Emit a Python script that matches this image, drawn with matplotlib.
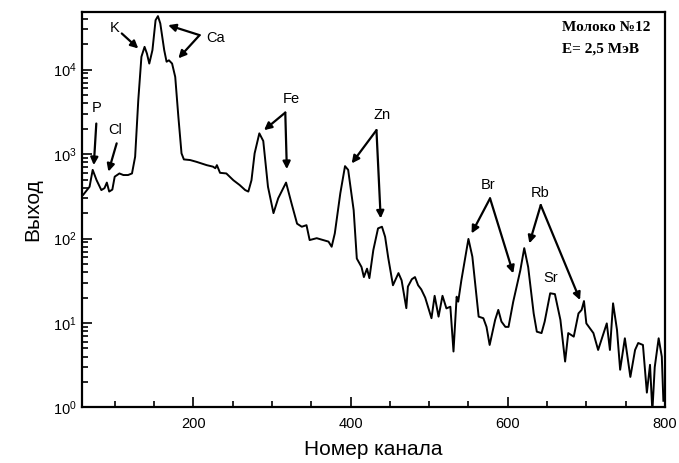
import matplotlib
matplotlib.use("Agg")
import matplotlib.pyplot as plt
from matplotlib.ticker import MultipleLocator, LogLocator, NullFormatter

plt.rcParams['font.family'] = ['Liberation Sans', 'DejaVu Sans']
plt.rcParams['mathtext.fontset'] = 'custom'
plt.rcParams['mathtext.rm'] = 'Liberation Sans'
plt.rcParams['mathtext.it'] = 'Liberation Sans:italic'

# spectrum: channel number and yield
channel = [60, 68, 72, 77, 83, 87, 90, 93, 97, 100, 106, 111, 117, 122, 126, 130, 134, 138, 141, 144,
           148, 152, 155, 158, 163, 166, 169, 173, 177, 181, 185, 188, 196, 204, 217, 225, 228, 230,
           234, 242, 251, 259, 266, 270, 274, 278, 284, 289, 295, 302, 308, 318, 325, 332, 338, 344,
           348, 357, 365, 372, 376, 380, 387, 393, 397, 404, 408, 414, 417, 421, 424, 429, 435, 440,
           444, 448, 454, 461, 465, 471, 473, 478, 482, 486, 490, 495, 503, 507, 512, 517, 522, 527,
           531, 535, 537, 541, 550, 555, 563, 569, 573, 577, 584, 588, 592, 597, 601, 607, 616, 621,
           626, 633, 637, 643, 647, 654, 660, 667, 673, 677, 684, 690, 694, 697, 700, 709, 715, 722,
           726, 730, 734, 739, 743, 749, 756, 762, 766, 772, 777, 781, 784, 787, 792, 796, 798]
counts = [330, 410, 650, 490, 375, 395, 460, 360, 380, 540, 590, 565, 565, 590, 930, 4350, 14200,
          18600, 15500, 11800, 17000, 38500, 43000, 35200, 17000, 12400, 12900, 11800, 8200, 2760,
          1020, 865, 850, 810, 740, 710, 680, 740, 600, 590, 490, 430, 375, 360, 490, 1020, 1760,
          1430, 410, 200, 300, 460, 260, 150, 138, 144, 96, 101, 96, 92, 80, 115, 343, 720, 650, 217,
          58, 46, 35, 44, 34, 73, 132, 138, 105, 59, 28, 39, 32, 15, 27, 33, 35, 28, 25, 20, 11.4, 21,
          11.9, 21, 14.9, 15.6, 4.6, 20.5, 17.9, 32, 99, 61, 11.9, 11.4, 9.0, 5.5, 10.9, 14.3, 10.4,
          9.0, 9.0, 17.9, 42, 77, 46, 13, 7.9, 7.6, 10.4, 22.5, 22, 10.9, 3.5, 7.6, 6.9, 13, 14.3,
          18.2, 9.9, 7.6, 4.8, 7.6, 9.9, 4.8, 17.1, 8.3, 2.8, 6.6, 2.3, 4.8, 5.8, 5.5, 1.5, 3.2, 0.9,
          3.0, 6.6, 4.0, 1.2]

# element labels: (text, text position, arrow start, arrow tips)
labels = [
    ("P",  (77, 3475),   (76.6, 2300),  [(73.4, 740)]),
    ("Cl", (100, 1920),  (102.5, 1340), [(92, 620)]),
    ("K",  (100, 30700), (109, 26800),  [(130, 17800)]),
    ("Ca", (228, 23400), (208, 25600),  [(168, 33600), (181, 13600)]),
    ("Fe", (325, 4480),  (317, 3100),   [(290, 1920), (319, 664)]),
    ("Zn", (440, 2900),  (433, 1920),   [(401.5, 776), (438.4, 173)]),
    ("Br", (575, 430),   (577.5, 299),  [(554, 115), (607, 38.7)]),
    ("Rb", (641, 343),   (642, 249),    [(627.5, 87.7), (692, 18.7)]),
    ("Sr", (654, 33.8),  None,          []),
]

fig = plt.figure(figsize=(6.79, 4.63), dpi=100)
ax = fig.add_axes([0.1203, 0.1199, 0.859, 0.854])

ax.plot(channel, counts, color='black', linewidth=1.4)
ax.set_yscale('log')
ax.set_xlim(58, 800)
ax.set_ylim(1, 4.8e4)

ax.xaxis.set_major_locator(MultipleLocator(200))
ax.xaxis.set_minor_locator(MultipleLocator(50))
ax.yaxis.set_major_locator(LogLocator(base=10))
ax.yaxis.set_minor_locator(LogLocator(base=10, subs=range(2, 10)))
ax.yaxis.set_minor_formatter(NullFormatter())
ax.tick_params(which='both', direction='in', top=False, right=False, width=1.2, labelsize=10.5)
ax.tick_params(which='major', length=7)
ax.tick_params(which='minor', length=4)
ax.tick_params(axis='x', which='major', pad=7)
for s in ax.spines.values():
    s.set_linewidth(1.6)

ax.set_xlabel("Номер канала", fontsize=15, labelpad=6)
ax.set_ylabel("Выход", fontsize=15, labelpad=8)

for name, tpos, start, tips in labels:
    ax.text(tpos[0], tpos[1], name, ha='center', va='center', fontsize=10.5)
    for tip in tips:
        ax.annotate("", xy=tip, xytext=start,
                    arrowprops=dict(arrowstyle='-|>', color='black', lw=1.6,
                                    mutation_scale=11, shrinkA=0, shrinkB=0))

ax.text(0.823, 0.962, "Молоко №12", transform=ax.transAxes, ha='left', va='center',
        fontsize=11, family=['Liberation Serif', 'DejaVu Serif'], fontweight='bold')
ax.text(0.823, 0.906, "E= 2,5 МэВ", transform=ax.transAxes, ha='left', va='center',
        fontsize=11, family=['Liberation Serif', 'DejaVu Serif'], fontweight='bold')

fig.savefig("out.png", dpi=100)
